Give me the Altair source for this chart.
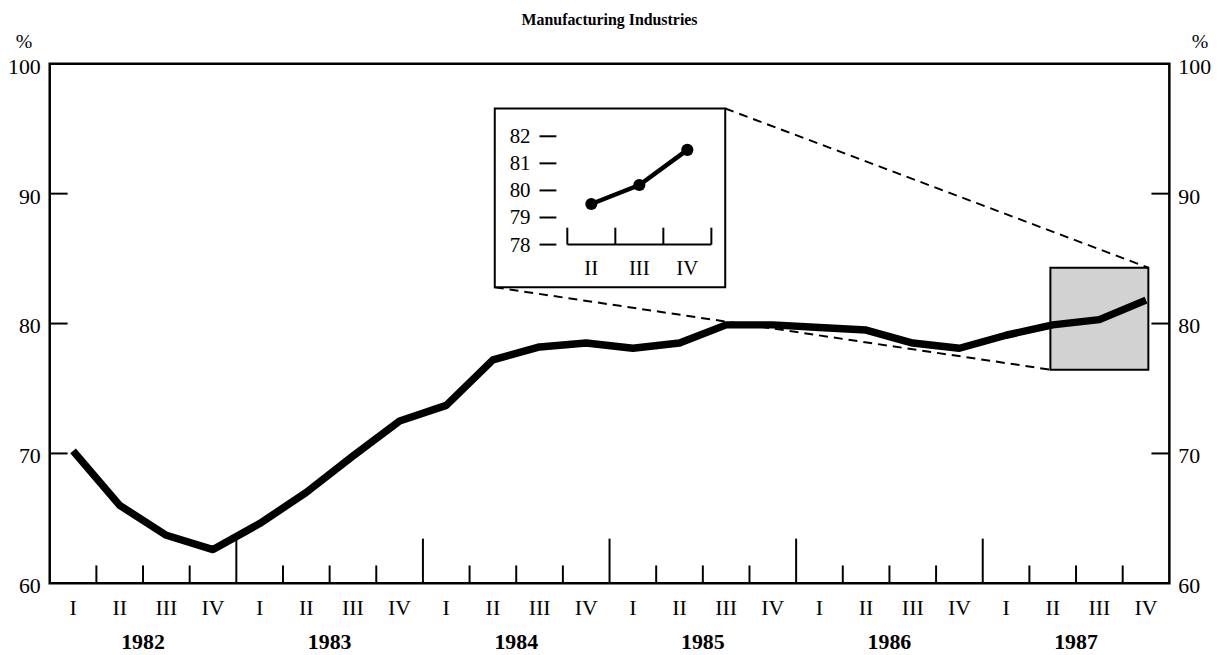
import altair as alt
import pandas as pd

# ---------------- data ----------------
quarter_labels = ["I", "II", "III", "IV"]
years = ["1982", "1983", "1984", "1985", "1986", "1987"]
utilization = [70.2, 66.0, 63.7, 62.6, 64.6, 67.0, 69.8, 72.5,
               73.7, 77.2, 78.2, 78.5, 78.1, 78.5, 79.9, 79.9,
               79.7, 79.5, 78.5, 78.1, 79.1, 79.9, 80.3, 81.8]
y_tick_values = [60, 70, 80, 90, 100]
inset_quarters = ["II", "III", "IV"]
inset_values = [79.5, 80.2, 81.5]
inset_tick_values = [78, 79, 80, 81, 82]
title_text = "Manufacturing Industries"
unit_label = "%"

# ---------------- layout (not data) ----------------
W, H = 1127, 523
FONT = "Liberation Serif"
LABEL_SIZE = 22
BOX = {"x0": 21.45, "x1": 23.55, "y0": 76.45, "y1": 84.3}       # zoom box, main data units
INSET = {"x0": 9.54, "x1": 14.48, "y0": 82.79, "y1": 96.56}     # inset frame, main data units
INSET_X_RANGE = [521, 666]                                      # inset plot, px in plot area
INSET_Y_RANGE = [182, 73]

n = len(utilization)
xs = alt.Scale(domain=[0, n], nice=False, zero=False)
ys = alt.Scale(domain=[y_tick_values[0], y_tick_values[-1]], nice=False, zero=False)

main_df = pd.DataFrame({
    "pos": [i + 0.5 for i in range(n)],
    "value": utilization,
    "q": [quarter_labels[i % 4] for i in range(n)],
})
year_df = pd.DataFrame({"pos": [4 * k + 2 for k in range(len(years))], "year": years})
bound_df = pd.DataFrame({"b": list(range(1, n))})
bound_df["kind"] = ["year" if b % 4 == 0 else "quarter" for b in bound_df["b"]]
ytick_df = pd.DataFrame({"value": y_tick_values})
inner_tick_df = pd.DataFrame({"value": y_tick_values[1:-1]})

box = alt.Chart(pd.DataFrame([BOX])).mark_rect(
    fill="#d2d2d2", stroke="black", strokeWidth=2
).encode(
    x=alt.X("x0:Q", scale=xs, axis=None), x2="x1:Q",
    y=alt.Y("y0:Q", scale=ys, axis=None), y2="y1:Q",
)

conn_df = pd.DataFrame({
    "xa": [INSET["x1"], INSET["x0"]], "ya": [INSET["y1"], INSET["y0"]],
    "xb": [BOX["x1"], BOX["x0"]], "yb": [BOX["y1"], BOX["y0"]],
})
connectors = alt.Chart(conn_df).mark_rule(
    color="black", strokeWidth=2, strokeDash=[9, 6]
).encode(
    x=alt.X("xa:Q", scale=xs, axis=None), x2="xb:Q",
    y=alt.Y("ya:Q", scale=ys, axis=None), y2="yb:Q",
)

inset_frame = alt.Chart(pd.DataFrame([INSET])).mark_rect(
    fill="white", stroke="black", strokeWidth=2
).encode(
    x=alt.X("x0:Q", scale=xs, axis=None), x2="x1:Q",
    y=alt.Y("y0:Q", scale=ys, axis=None), y2="y1:Q",
)

q_ticks = alt.Chart(bound_df).transform_filter("datum.kind == 'quarter'").mark_rule(
    color="black", strokeWidth=2
).encode(x=alt.X("b:Q", scale=xs, axis=None), y=alt.value(H), y2=alt.value(H - 18))

y_ticks_marks = alt.Chart(bound_df).transform_filter("datum.kind == 'year'").mark_rule(
    color="black", strokeWidth=2
).encode(x=alt.X("b:Q", scale=xs, axis=None), y=alt.value(H), y2=alt.value(H - 45))

left_ticks = alt.Chart(inner_tick_df).mark_rule(color="black", strokeWidth=2).encode(
    y=alt.Y("value:Q", scale=ys, axis=None), x=alt.value(0), x2=alt.value(18))
right_ticks = alt.Chart(inner_tick_df).mark_rule(color="black", strokeWidth=2).encode(
    y=alt.Y("value:Q", scale=ys, axis=None), x=alt.value(W - 18), x2=alt.value(W))

q_text = alt.Chart(main_df).mark_text(
    font=FONT, fontSize=LABEL_SIZE, baseline="middle", color="black"
).encode(x=alt.X("pos:Q", scale=xs, axis=None), y=alt.value(H + 25), text="q:N")

year_text = alt.Chart(year_df).mark_text(
    font=FONT, fontSize=LABEL_SIZE, fontWeight="bold", baseline="middle", color="black"
).encode(x=alt.X("pos:Q", scale=xs, axis=None), y=alt.value(H + 59), text="year:N")

left_labels = alt.Chart(ytick_df).mark_text(
    font=FONT, fontSize=LABEL_SIZE, baseline="middle", align="right", dy=3, color="black"
).encode(y=alt.Y("value:Q", scale=ys, axis=None), x=alt.value(-9), text="value:Q")

right_labels = alt.Chart(ytick_df).mark_text(
    font=FONT, fontSize=LABEL_SIZE, baseline="middle", align="left", dy=3, color="black"
).encode(y=alt.Y("value:Q", scale=ys, axis=None), x=alt.value(W + 9), text="value:Q")

unit_df = pd.DataFrame({"t": [unit_label]})
unit_left = alt.Chart(unit_df).mark_text(
    font=FONT, fontSize=20, baseline="middle", align="center", color="black"
).encode(x=alt.value(-26), y=alt.value(-22), text="t:N")
unit_right = alt.Chart(unit_df).mark_text(
    font=FONT, fontSize=20, baseline="middle", align="center", color="black"
).encode(x=alt.value(W + 31), y=alt.value(-22), text="t:N")

title = alt.Chart(pd.DataFrame({"t": [title_text]})).mark_text(
    font=FONT, fontSize=16, fontWeight="bold", baseline="middle", align="center", color="black"
).encode(x=alt.value(W / 2), y=alt.value(-44), text="t:N")

main_line = alt.Chart(main_df).mark_line(
    color="black", strokeWidth=7.5, strokeJoin="round", strokeCap="butt"
).encode(x=alt.X("pos:Q", scale=xs, axis=None), y=alt.Y("value:Q", scale=ys, axis=None))

main_group = alt.layer(
    box, connectors, inset_frame, q_ticks, y_ticks_marks, left_ticks, right_ticks,
    q_text, year_text, left_labels, right_labels, unit_left, unit_right, title, main_line,
)

# ---------------- inset ----------------
ixs = alt.Scale(domain=[0, len(inset_quarters)], range=INSET_X_RANGE, nice=False, zero=False)
iys = alt.Scale(domain=[inset_tick_values[0], inset_tick_values[-1]], range=INSET_Y_RANGE,
                nice=False, zero=False)

inset_df = pd.DataFrame({
    "pos": [i + 0.5 for i in range(len(inset_quarters))],
    "value": inset_values,
    "q": inset_quarters,
})
inset_bounds = pd.DataFrame({"b": list(range(len(inset_quarters) + 1))})
inset_base = pd.DataFrame({"x0": [0], "x1": [len(inset_quarters)], "v": [inset_tick_values[0]]})
inset_ticks_df = pd.DataFrame({"value": inset_tick_values})

i_line = alt.Chart(inset_df).mark_line(color="black", strokeWidth=4.5).encode(
    x=alt.X("pos:Q", scale=ixs, axis=None), y=alt.Y("value:Q", scale=iys, axis=None))
i_pts = alt.Chart(inset_df).mark_point(filled=True, color="black", size=150, opacity=1).encode(
    x=alt.X("pos:Q", scale=ixs, axis=None), y=alt.Y("value:Q", scale=iys, axis=None))
i_base = alt.Chart(inset_base).mark_rule(color="black", strokeWidth=2).encode(
    x=alt.X("x0:Q", scale=ixs, axis=None), x2="x1:Q",
    y=alt.Y("v:Q", scale=iys, axis=None))
i_xticks = alt.Chart(inset_bounds).mark_rule(color="black", strokeWidth=2).encode(
    x=alt.X("b:Q", scale=ixs, axis=None),
    y=alt.value(INSET_Y_RANGE[0]), y2=alt.value(INSET_Y_RANGE[0] - 17))
i_xlabels = alt.Chart(inset_df).mark_text(
    font=FONT, fontSize=21, baseline="middle", color="black"
).encode(x=alt.X("pos:Q", scale=ixs, axis=None), y=alt.value(INSET_Y_RANGE[0] + 25), text="q:N")
i_yticks = alt.Chart(inset_ticks_df).mark_rule(color="black", strokeWidth=2).encode(
    y=alt.Y("value:Q", scale=iys, axis=None), x=alt.value(493), x2=alt.value(510))
i_ylabels = alt.Chart(inset_ticks_df).mark_text(
    font=FONT, fontSize=21, baseline="middle", align="right", dy=1, color="black"
).encode(y=alt.Y("value:Q", scale=iys, axis=None), x=alt.value(484), text="value:Q")

inset_group = alt.layer(i_base, i_xticks, i_xlabels, i_yticks, i_ylabels, i_line, i_pts)

chart = alt.layer(main_group, inset_group).resolve_scale(
    x="independent", y="independent"
).properties(
    width=W, height=H,
    padding={"left": 42, "top": 54, "right": 52, "bottom": 70},
    autosize=alt.AutoSizeParams(type="none"),
    background="white",
).configure_view(stroke="black", strokeWidth=2.5)

chart.save("out.html", embed_options={"renderer": "svg", "actions": False})
